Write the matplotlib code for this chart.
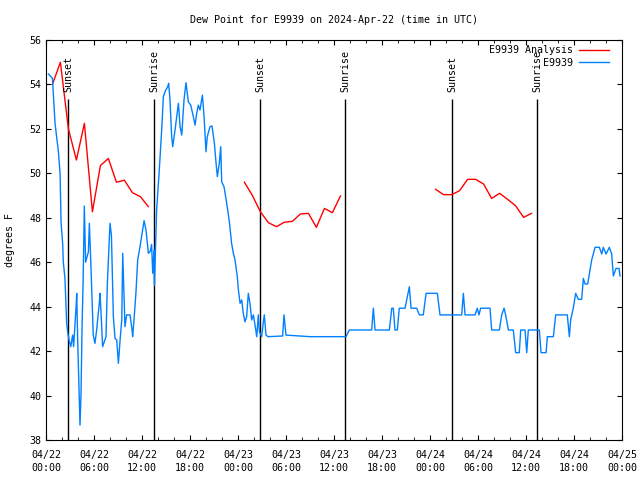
import numpy as np
import pandas as pd
import matplotlib
matplotlib.use("Agg")
import matplotlib.pyplot as plt
import matplotlib.dates as mdates

#----------------------------------------------------------------------
# data (hours after 2024-04-22 00:00 UTC, degrees F)

start = pd.Timestamp("2024-04-22 00:00")

ana_hours = [
    [0.8, 1.8, 2.8, 3.8, 4.8, 5.8, 6.8, 7.8, 8.8, 9.8, 10.8, 11.8, 12.8],
    [24.8, 25.8, 26.8, 27.8, 28.8, 29.8, 30.8, 31.8, 32.8, 33.8, 34.8, 35.8, 36.8],
    [48.7, 49.7, 50.7, 51.7, 52.7, 53.7, 54.7, 55.7, 56.7, 57.7, 58.7, 59.7, 60.7],
]
ana_vals = [
    [54.0, 55.0, 52.0, 50.6, 52.25, 48.27, 50.35, 50.67, 49.6, 49.69, 49.13, 48.95, 48.5],
    [49.6, 49.0, 48.27, 47.78, 47.6, 47.8, 47.84, 48.17, 48.2, 47.57, 48.42, 48.23, 48.98],
    [49.28, 49.04, 49.04, 49.22, 49.73, 49.73, 49.52, 48.87, 49.1, 48.83, 48.54, 48.02, 48.2],
]

obs_hours = [
    0.3, 0.8, 1.13, 1.55, 1.76, 1.88, 2.09, 2.16, 2.37, 2.5, 2.58, 2.72, 2.88, 3.09,
    3.33, 3.45, 3.75, 3.84, 3.96, 4.08, 4.25, 4.38, 4.5, 4.65, 4.79, 4.95, 5.3, 5.42, 5.55,
    5.91, 6.12, 6.33, 6.66, 6.75, 6.87, 7.08, 7.5, 7.67, 8.0, 8.18, 8.42, 8.63, 8.84,
    9.05, 9.26, 9.47, 9.59, 9.71, 9.87, 10.08, 10.5, 10.76, 10.83, 11.0, 11.25, 11.46, 11.75,
    12.26, 12.5, 12.8, 13.05, 13.2, 13.34, 13.5, 13.55, 13.83, 14.16, 14.46, 14.67, 14.91, 15.21,
    15.33, 15.5, 15.71, 15.84, 16.13, 16.55, 16.76, 16.97, 17.25, 17.5, 17.79, 18.09,
    18.42, 18.63, 18.84, 19.04, 19.25, 19.55, 19.76, 20.0, 20.16, 20.5, 20.75, 21.05,
    21.26, 21.42, 21.66, 21.84, 21.96, 22.25, 22.59, 22.92, 23.2, 23.42, 23.63, 23.91,
    24.05, 24.26, 24.47, 24.66, 24.87, 25.08, 25.29, 25.5, 25.71, 25.92, 26.13, 26.34,
    26.54, 26.67, 26.96, 27.17, 27.29, 27.5, 27.75, 29.58, 29.75, 30.0, 33.0, 37.5,
    37.92, 40.71, 40.92, 41.13, 42.92, 43.22, 43.41, 43.62, 43.92, 44.16, 44.88, 45.09,
    45.42, 45.63, 46.34, 46.67, 47.16, 47.51, 48.92, 49.25, 51.96, 52.17, 52.38, 53.63,
    53.91, 54.12, 54.33, 55.5, 55.71, 56.67, 56.96, 57.26, 57.45, 57.8, 58.41, 58.71,
    59.16, 59.34, 59.88, 60.09, 60.29, 61.67, 61.88, 62.51, 62.67, 63.42, 63.71, 65.16,
    65.42, 65.58, 65.91, 66.21, 66.54, 66.96, 67.17, 67.38, 67.71, 68.21, 68.63, 69.17,
    69.47, 69.66, 70.01, 70.41, 70.71, 70.92, 71.25, 71.63, 71.75,
]
obs_vals = [
    54.47, 54.28, 52.25, 50.97, 50.0, 47.8, 46.8, 46.02, 45.27, 44.0, 43.26, 42.83, 42.5, 42.2,
    42.72, 42.2, 43.93, 44.6, 42.5, 40.85, 38.67, 40.1, 42.95, 45.35, 48.53, 46.0, 46.47, 47.75, 46.5,
    42.72, 42.35, 42.95, 44.15, 44.6, 43.77, 42.2, 42.65, 45.05, 47.75, 47.2, 43.55, 42.57, 42.5,
    41.45, 42.5, 43.4, 46.4, 45.05, 43.1, 43.63, 43.63, 42.95, 42.65, 43.4, 44.67, 46.1, 46.7,
    47.87, 47.45, 46.4, 46.5, 46.8, 45.5, 46.55, 44.95, 48.35, 50.15, 51.95, 53.45, 53.7, 53.9,
    54.05, 53.3, 51.65, 51.2, 51.95, 53.15, 52.1, 51.72, 53.3, 54.08, 53.22, 53.07,
    52.55, 52.17, 52.7, 53.07, 52.85, 53.52, 52.55, 50.97, 51.65, 52.1, 52.13, 51.35,
    50.45, 49.85, 50.45, 51.2, 49.62, 49.4, 48.65, 47.82, 46.85, 46.4, 46.1, 45.35,
    44.75, 44.15, 44.3, 43.7, 43.32, 43.55, 44.6, 44.15, 43.4, 43.63, 43.17, 42.65,
    43.63, 42.88, 42.65, 43.32, 43.63, 42.72, 42.65, 42.68, 43.63, 42.72, 42.65, 42.65,
    42.95, 42.95, 43.93, 42.95, 42.95, 43.93, 43.93, 42.95, 42.95, 43.93, 43.93, 44.3,
    44.9, 43.93, 43.93, 43.63, 43.63, 44.6, 44.6, 43.63, 43.63, 44.6, 43.63, 43.63,
    43.93, 43.63, 43.93, 43.93, 42.95, 42.95, 43.63, 43.93, 43.63, 42.95, 42.95, 41.93,
    41.93, 42.95, 42.95, 41.93, 42.95, 42.95, 41.93, 41.93, 42.65, 42.65, 43.63, 43.63,
    42.65, 43.4, 43.93, 44.6, 44.33, 44.33, 45.27, 45.02, 45.02, 46.1, 46.67, 46.67,
    46.37, 46.67, 46.37, 46.67, 46.37, 45.38, 45.72, 45.72, 45.38,
]

event_hours = [2.78, 13.5, 26.78, 37.42, 50.8, 61.4]
event_names = ["Sunset", "Sunrise", "Sunset", "Sunrise", "Sunset", "Sunrise"]

#----------------------------------------------------------------------

def toTime(hours):
    return start + pd.to_timedelta(np.array(hours), unit="h")

fs = 7.2
plt.rcParams['font.family'] = ['DejaVu Sans Mono']
plt.rcParams['font.size'] = fs

fig = plt.figure(figsize=(6.4, 4.8), dpi=100)
ax = fig.add_axes([46/640, 40/480, 576/640, 400/480])

top = 53.35
for h, name in zip(event_hours, event_names):
    t = toTime([h])[0]
    ax.vlines(t, 38, top, color="black", lw=1)
    ax.text(t, top + 0.3, name, rotation=90, ha="center", va="bottom", fontsize=fs)

for i, (hrs, vals) in enumerate(zip(ana_hours, ana_vals)):
    ax.plot(toTime(hrs), vals, '-', color="#ff0000", lw=1,
            label="E9939 Analysis" if i == 0 else None)
ax.plot(toTime(obs_hours), obs_vals, '-', color="#0080ff", lw=1, label="E9939")

ax.set_xlim(start, start + pd.Timedelta(hours=72))
ax.set_ylim(38, 56)
ax.set_yticks(np.arange(38, 57, 2))
ax.xaxis.set_major_locator(mdates.HourLocator(byhour=range(0, 24, 6)))
ax.xaxis.set_minor_locator(mdates.HourLocator(byhour=range(0, 24, 2)))
ax.xaxis.set_major_formatter(mdates.DateFormatter("%m/%d\n%H:%M"))
ax.tick_params(which="both", direction="in", top=True, right=True, labelsize=fs)
ax.tick_params(which="major", length=3.5)
ax.tick_params(which="minor", length=2)
ax.tick_params(axis="x", which="major", pad=7)
for lab in ax.get_xticklabels():
    lab.set_linespacing(1.45)

ax.set_title("Dew Point for E9939 on 2024-Apr-22 (time in UTC)", fontsize=fs, pad=12)
ax.set_ylabel("degrees F")
ax.yaxis.set_label_coords(-0.053, 0.5)

leg = ax.legend(loc="upper right", bbox_to_anchor=(1 - 6/576, 1 + 2/400), frameon=False,
                markerfirst=False, handlelength=3.0, borderaxespad=0.3, labelspacing=0.25,
                handletextpad=0.6, fontsize=fs)

fig.savefig("out.png", dpi=100)
